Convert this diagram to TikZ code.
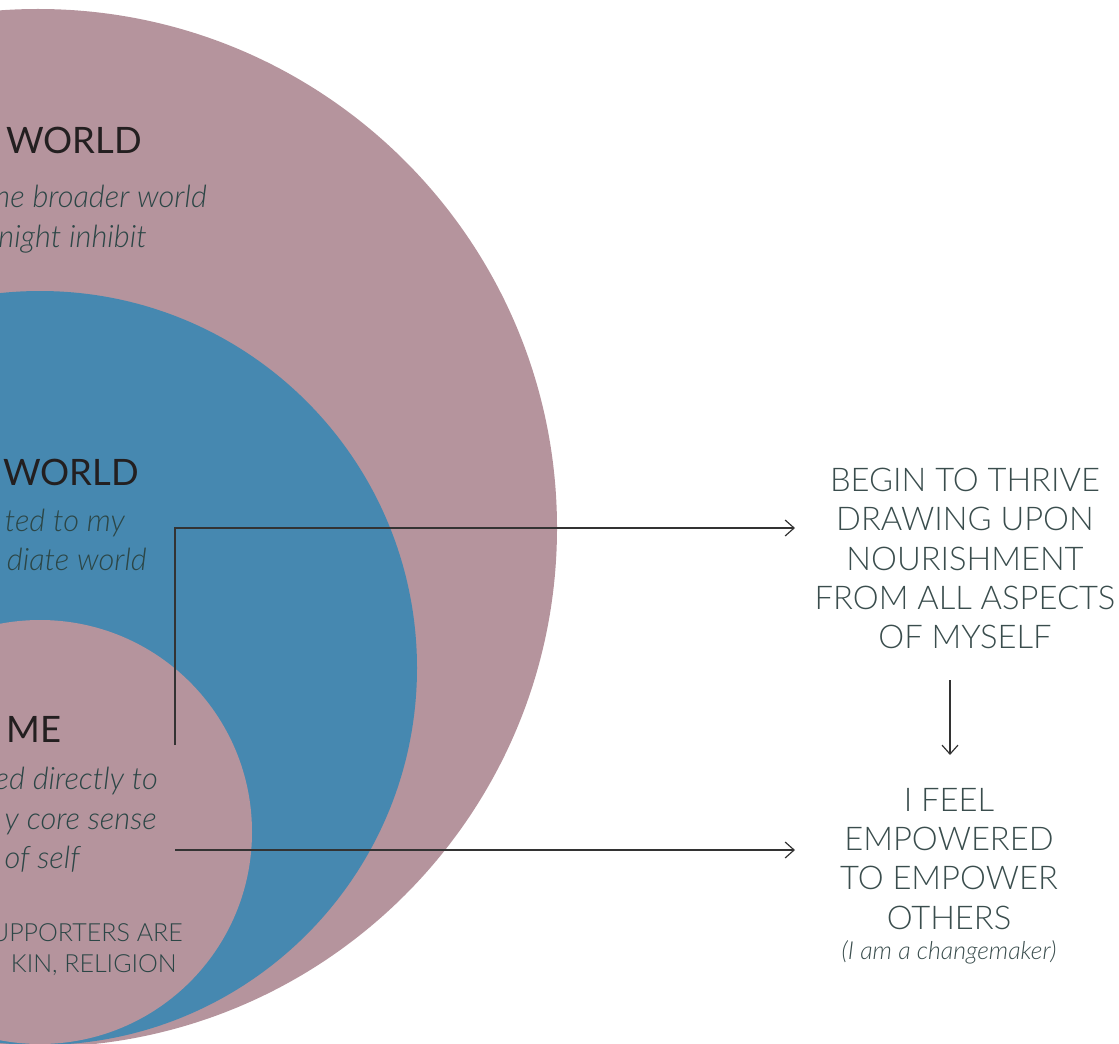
\documentclass[tikz,border=0pt]{standalone}
\usepackage{fontspec}
\setmainfont{Lato}
\newfontfamily\lightf{Lato Light}
\newfontfamily\itf{Lato Light Italic}
\usetikzlibrary{arrows.meta}
\definecolor{pinkc}{HTML}{B5949D}
\definecolor{bluec}{HTML}{4688B0}
\definecolor{headc}{HTML}{231F20}
\definecolor{itc}{HTML}{2C4646}
\definecolor{rtc}{HTML}{3A4D4D}
\definecolor{linec}{HTML}{333333}
\begin{document}
\begin{tikzpicture}[x=1bp,y=-1bp,
  head/.style={inner sep=0pt, anchor=base east, text=headc, font=\fontsize{36.4bp}{44bp}\selectfont},
  itline/.style={inner sep=0pt, anchor=base east, text=itc, font=\itf\fontsize{30.8bp}{40bp}\selectfont},
  capline/.style={inner sep=0pt, anchor=base east, text=itc, font=\lightf\fontsize{25bp}{31bp}\selectfont},
  rtext/.style={inner sep=0pt, anchor=north, align=center, text=rtc, font=\lightf\fontsize{32.7bp}{39.3bp}\selectfont},
  conn/.style={draw=linec, line width=1.2bp, -{Straight Barb[length=9bp,width=16bp,line width=1.2bp]}}
]
\clip (0,0) rectangle (1119,1044);
% circles
\fill[pinkc] (38,528) circle (519bp);
\fill[bluec] (40,668) circle (377bp);
\fill[pinkc] (40,832) circle (212bp);
% left texts
\node[head] (w1) at (142,153) {WORLD};
\node[itline] (w1a) at (207,207) {he broader world};
\node[itline] (w1b) at (147,247) {night inhibit};
\node[head] (w2) at (139,485) {WORLD};
\node[itline] (w2a) at (125,531) {ted to my};
\node[itline] (w2b) at (147,570) {diate world};
\node[head] (me) at (62,742) {ME};
\node[itline] (mea) at (158,789) {ed directly to};
\node[itline] (meb) at (157,829) {y core sense};
\node[itline] (mec) at (80,868) {of self};
\node[capline] (sa) at (183,941) {UPPORTERS ARE};
\node[capline] (sb) at (177,972) {KIN, RELIGION};
% right texts
\node[rtext] (thrive) at (965,468) {BEGIN TO THRIVE\\DRAWING UPON\\NOURISHMENT\\FROM ALL ASPECTS\\OF MYSELF};
\node[rtext] (empower) at (949,788) {I FEEL\\EMPOWERED\\TO EMPOWER\\OTHERS\\[-9bp]{\itf\fontsize{24.8bp}{30bp}\selectfont(I am a changemaker)}};
% connectors
\coordinate (s1) at (175,745);
\coordinate (t1) at (795,528);
\coordinate (s2) at (175,850);
\coordinate (t2) at (795,850);
\coordinate (d1) at (950,680);
\coordinate (d2) at (950,755);
\draw[conn] (s1) |- (t1);
\draw[conn] (s2) -- (t2);
\draw[conn] (d1) -- (d2);
\end{tikzpicture}
\end{document}
